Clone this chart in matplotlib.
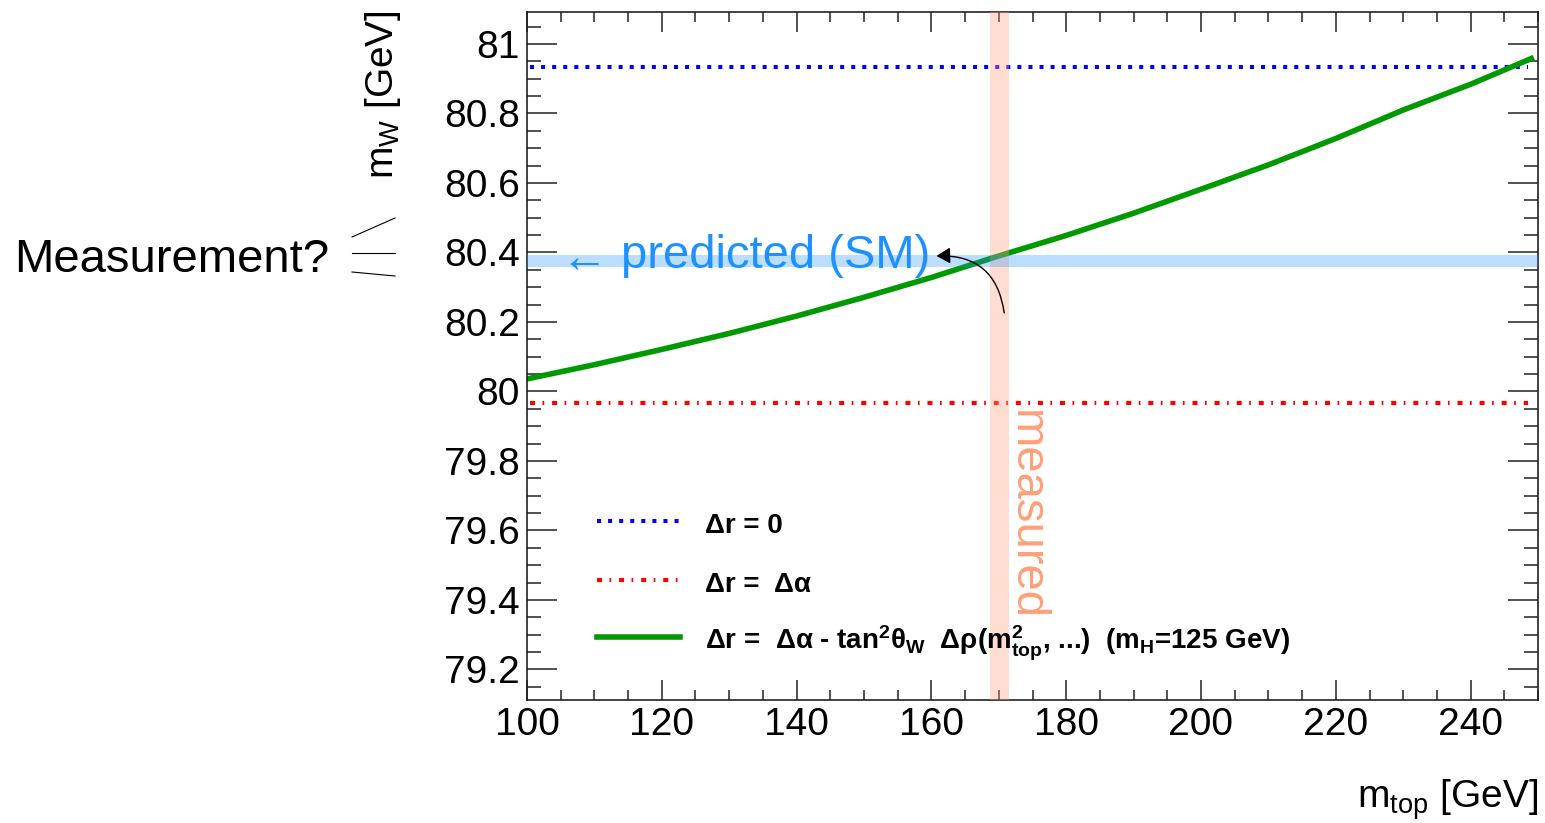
import matplotlib
matplotlib.use('Agg')
import matplotlib.pyplot as plt
from matplotlib.lines import Line2D
from matplotlib.ticker import MultipleLocator, FormatStrFormatter
import numpy as np

plt.rcParams['font.family'] = ['Liberation Sans', 'DejaVu Sans']
plt.rcParams['mathtext.fontset'] = 'custom'
plt.rcParams['mathtext.rm'] = 'Liberation Sans'
plt.rcParams['mathtext.it'] = 'Liberation Sans:italic'
plt.rcParams['mathtext.bf'] = 'Liberation Sans:bold'

# m_W vs m_top
m_top = np.array([100, 110, 120, 130, 140, 150, 160, 170, 180, 190, 200,
                  210, 220, 230, 240, 249])
mw_full = np.array([80.036, 80.077, 80.121, 80.167, 80.217, 80.271, 80.328,
                    80.390, 80.449, 80.513, 80.582, 80.652, 80.728, 80.810,
                    80.884, 80.958])
m_top_range = np.array([100.5, 248.5])
mw_dr0 = np.array([80.934, 80.934])      # delta r = 0
mw_dralpha = np.array([79.968, 79.968])  # delta r = delta alpha

# measured top mass and predicted W mass bands
m_top_meas, m_top_err = 170.1, 1.4
mw_pred, mw_pred_err = 80.376, 0.017

labels = ['Δr = 0',
          'Δr =  Δα',
          r'Δr =  Δα - tan$^{\mathbf{2}}$θ$_{\mathbf{W}}$  Δρ(m$^{\mathbf{2}}_{\mathbf{top}}$, ...)  (m$_{\mathbf{H}}$=125 GeV)']

fig = plt.figure(figsize=(15.45, 8.23), dpi=100)
ax = fig.add_axes([527/1545, 123/823, 1011/1545, 688/823])

blue_style = dict(color='#0000ff', lw=2.9, linestyle=(0, (1, 1.75)), dash_capstyle='butt')
red_style = dict(color='#ff0000', lw=3, linestyle=(0, (1.2, 1.8, 0.4, 1.9)), dash_capstyle='butt')
green_style = dict(color='#009a00', lw=4)

ax.plot(m_top_range, mw_dr0, zorder=2, **blue_style)
ax.plot(m_top_range, mw_dralpha, zorder=2, **red_style)
ax.plot(m_top, mw_full, zorder=2, **green_style)

ax.axvspan(m_top_meas - m_top_err, m_top_meas + m_top_err, color='#ffa07a',
           alpha=0.35, lw=0, zorder=3)
ax.axhspan(mw_pred - mw_pred_err, mw_pred + mw_pred_err, color='#1e90ff',
           alpha=0.3, lw=0, zorder=3)

ax.text(m_top_meas + 0.6, 79.947, 'measured', rotation=-90, color='#ffa07a',
        fontsize=34, ha='left', va='top', zorder=4)
ax.text(105.0, mw_pred, '←', color='#1e90ff', fontsize=34, ha='left',
        va='center', zorder=4)
ax.text(113.9, 80.355, 'predicted (SM)', color='#1e90ff', fontsize=34,
        ha='left', va='baseline', zorder=4)
ax.annotate('', xy=(160.75, 80.39), xytext=(170.8, 80.226),
            arrowprops=dict(arrowstyle='-|>,head_length=0.6,head_width=0.35',
                            connectionstyle='arc3,rad=0.45', color='black',
                            lw=1, mutation_scale=14, shrinkA=0, shrinkB=0),
            zorder=5)

ax.set_xlim(100, 250)
ax.set_ylim(79.112, 81.092)
ax.xaxis.set_major_locator(MultipleLocator(20))
ax.xaxis.set_minor_locator(MultipleLocator(5))
ax.yaxis.set_major_locator(MultipleLocator(0.2))
ax.yaxis.set_minor_locator(MultipleLocator(0.05))
ax.yaxis.set_major_formatter(FormatStrFormatter('%g'))
ax.tick_params(axis='both', which='both', direction='in', top=True, right=True,
               width=1.1, color='#222222', labelsize=28, pad=5)
ax.tick_params(axis='x', which='major', length=14.4)
ax.tick_params(axis='x', which='minor', length=7.2)
ax.tick_params(axis='y', which='major', length=21.6)
ax.tick_params(axis='y', which='minor', length=10.4)
for s in ax.spines.values():
    s.set_linewidth(1.2)
    s.set_color('#222222')

ax.text(-0.1424, 1.003, 'm$_{\\rm W}$ [GeV]', rotation=90, fontsize=28,
        ha='center', va='top', transform=ax.transAxes)
ax.text(1.0, -0.157, 'm$_{\\rm top}$ [GeV]', fontsize=28, ha='right',
        va='baseline', transform=ax.transAxes)

# legend, ROOT style (no frame), placed entry by entry
leg_line_y = [0.2602, 0.1744, 0.0916]
leg_text_y = [0.2427, 0.1570, 0.0741]
for style, lab, yl, yt in zip([blue_style, red_style, green_style], labels,
                              leg_line_y, leg_text_y):
    ax.plot([0.069, 0.151], [yl, yl], transform=ax.transAxes, zorder=2, **style)
    ax.text(0.1761, yt, lab, transform=ax.transAxes, fontsize=20,
            fontweight='bold', ha='left', va='baseline', zorder=4)

# "Measurement?" note on the left with its three strokes
fig.text(14/1545, 1 - 272/823, 'Measurement?', fontsize=34, ha='left', va='baseline')
for (xa, ya), (xb, yb) in [((352, 237), (395, 218)), ((352, 253), (395, 253)),
                           ((352, 272), (395, 276))]:
    fig.add_artist(Line2D([xa/1545, xb/1545], [1 - ya/823, 1 - yb/823],
                          color='black', lw=0.8))

fig.savefig('out.png', dpi=100)
